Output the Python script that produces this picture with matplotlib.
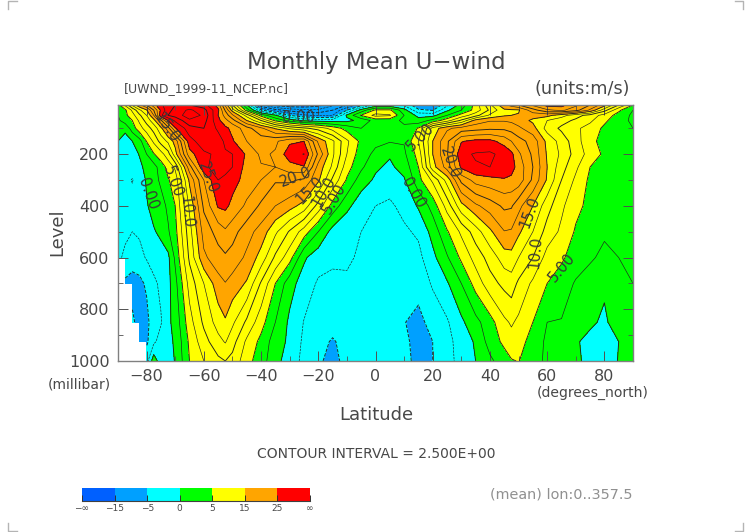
import numpy as np
import matplotlib
matplotlib.use("Agg")
import matplotlib.pyplot as plt
from matplotlib.colors import ListedColormap
from matplotlib.lines import Line2D

nan = np.nan
W, H = 752, 532

lat = [-90, -87.5, -85, -82.5, -80, -77.5, -75, -72.5, -70, -65, -60, -55, -52.5, -50, -45, -40, -35, -30, -25, -20, -15, -10,
       -5, 0, 5, 10, 15, 20, 25, 30, 35, 40, 45, 47.5, 50, 55, 60, 65, 70, 75, 80, 85, 90]
level = [1000, 925, 850, 700, 600, 500, 400, 300, 250, 200, 150, 100, 70, 50, 30, 10]

u_1000 = [nan,nan,nan,nan,-3.5,1.5,-1.5,-0.7,0.1,5,7.5,9.4,10,9.2,6,3.5,1,-1.5,-3,-4.5,-6,-4,-3,-2.5,-3,-4.5,-5.5,-5,-3,-2,0,2,3.8,4.8,5.1,3.5,2,1,0.8,-1.2,-2,0.2,1]
u_925 = [nan,nan,nan,-5.5,-5.5,-3,-1.5,-0.6,0.3,5.5,9,11.7,12.7,11,7,4.3,1.2,-0.5,-3,-4,-5.3,-4,-3,-2.6,-2.8,-4.5,-5.8,-5,-3,-1.8,0.4,3.5,5.6,6.6,6,4,2,1.5,0.3,-0.8,-1.5,0,1]
u_850 = [nan,nan,-4.5,-6,-6,-3,-2.7,-0.5,0.8,6.5,10.5,13.6,14.7,13,9.5,6,2.5,-0.5,-2.6,-3.5,-3.8,-3.5,-3,-3,-3.5,-4.9,-5.8,-4,-2.8,-0.5,1.7,4,7,7.8,7,5,2.5,2.4,1.2,0.5,-0.5,1.5,2]
u_700 = [nan,-5.5,-6,-5.8,-4.5,-3,-2,-0.8,1.7,8.5,12.5,16.5,17.4,16.5,14.7,9.7,5,1,-1.2,-2.8,-3,-2.6,-2.8,-3,-3.2,-4,-4,-2.2,-0.3,2.5,6,9,10.7,11.3,9.5,7,5,3.5,2.3,1.5,0.5,1.5,2.5]
u_600 = [-2,-3,-3.8,-3.2,-2.3,-1.5,-1,-0.6,3,10.5,17,19,19.6,19,17,14,9.5,6,0.4,-1.5,-2.1,-2.4,-2.6,-3,-3.3,-3.6,-3.2,-0.7,2.2,5.5,8.5,11,13.8,14.1,12.5,10,6.5,5.5,3.5,2.8,2,2.5,3]
u_500 = [-1.5,-2,-2.5,-2.2,-1.3,-0.2,0.5,2.2,4.2,11.5,18.5,21,22.1,21,18.5,16.5,13,9.7,6.3,2.5,-1,-2.1,-2.5,-3,-3.3,-2.9,-2.1,0.9,4.7,8,11.3,14.5,17.4,17.2,15.5,12.5,9,7,4.7,3.5,2.8,3,3.5]
u_400 = [-1,-1.5,-1.8,-1.7,-0.2,0.8,1.5,3,5,13,20.5,25.3,25.6,24.3,22,19.5,17.5,16,14,9,4,0.7,-1.5,-2.5,-2.9,-1.8,0.3,3.5,8.5,14.2,17,18.7,20.5,20.3,18.3,15,11,8,5.7,4.3,3.5,3.5,4]
u_300 = [-1,-2,-2.6,-1.6,0.3,1.5,3,4.8,6,15.5,22.5,27.5,27,26,24,22.5,20.3,20.5,19.5,15.5,9.5,4.7,1.2,-0.4,-1.4,-0.3,4.2,8,13.5,20.7,23.5,24.2,24.7,24.4,24,19.5,14.7,10,7,4.5,4,4,4.5]
u_250 = [-0.8,-1.2,-1.7,-0.4,0.5,1.5,3.7,5.8,8,19,27,28.5,28.2,27.5,24,22.7,22.5,24,24.8,16.5,12,6,3,0.4,-0.5,1,5,14,18.5,25.5,27.3,27.5,27,26,24,20,15,11,8,5,4.5,4.5,4.5]
u_200 = [-0.3,-0.5,-0.7,0.1,2.5,4.8,6.5,9,14,24,27,28,27.8,27.5,24.6,22,22.8,26.5,27.6,19.5,13,7.5,3.5,2,0.3,2,6,15,19.7,27,27.7,27.9,26.8,25.6,23,19.5,14.7,12,9,6.5,4.5,4.5,4.5]
u_150 = [0,-1,0,1.5,5.1,8,11,13,16,26.5,29,28.7,27,25.3,22.5,21.5,22,24.5,25,17,13,8,4.3,3,2.7,2.7,7.5,15,19.5,24.8,25.7,25.7,24,22.5,21,19,14.3,11.5,8.5,5.8,4,4,3.5]
u_100 = [1,0.6,3.7,6.5,8.7,11,14.3,19,24.7,29,30,27,25.6,24.3,21,18,14.7,12,10.5,9,6.5,4,2.5,2.8,2.8,3,5.2,13.5,17,18.5,19,19.5,19.5,19,18,16,11.5,9.5,8,6.5,4.5,3,2.5]
u_70 = [2,3.7,5,8,11,14,19.5,25,28,32,31,25.7,23.3,21,15,10,4.5,1.5,-0.5,-1,-1,-0.7,0.8,3.5,3.5,2,1,3.3,6.5,10.5,16,17.3,17.3,17,16.3,14.5,12.5,11,9.5,8,5.5,3.5,2]
u_50 = [2.5,4.3,6.5,9.5,12.5,17.5,27,30,31,34,32,25,21.5,18,11.5,4,0.3,-5,-7,-8,-7.5,0.5,5.2,8.3,7.8,2.5,-0.8,-0.8,2.5,6,9,13,14.7,15,15.2,16,15.8,13.5,11,9,6.5,4,2]
u_30 = [3,4.5,8,12,14.7,20,25.5,29,31,33,31,25.5,19.7,14,4,-4.5,-9,-11,-12,-12,-10,-5,1,5.5,5.5,1,-4.5,-5.2,-0.5,2.5,6,10.5,14.5,14.6,14.7,19,22,23,21,17,11,5.5,2.5]
u_10 = [4,8,13,17,20,24,27,29,30,30,28.5,24,17,10,0,-12,-16,-17,-17,-16,-13,-10,-6,-2,-2,-3,-7,-8,-3,1,6,12,17,18.5,20,23,26,26,23,20,16,10,5]

bar_edges = [-1000, -15, -5, 0, 5, 15, 25, 1000]
bar_colors = ["#0060ff", "#00a0ff", "#00ffff", "#00ff00", "#ffff00", "#ffa500", "#ff0000"]
bar_labels = ["\u2212\u221e", "\u221215", "\u22125", "0", "5", "15", "25", "\u221e"]
line_levels = np.arange(-17.5, 35, 2.5)
x_ticks = [-80, -60, -40, -20, 0, 20, 40, 60, 80]
y_ticks = [200, 400, 600, 800, 1000]

# (text, lat, level, rotation)
contour_labels = [
    ("15.0", -73, 100, -55), ("0.00", -27, 60, 0), ("5.00", -71, 308, -70),
    ("0.00", -79.5, 355, -70), ("10.0", -66, 424, -85), ("25.0", -58.5, 293, -70),
    ("20.0", -28, 290, 20), ("15.0", -23, 340, 45), ("10.0", -18, 343, 60),
    ("5.00", -14.5, 370, 60), ("5.00", 15.5, 135, 45), ("0.00", 13, 350, -60),
    ("20.0", 26, 235, -70), ("15.0", 54, 423, 70), ("10.0", 56, 580, 85),
    ("5.00", 65, 640, 50),
]

U = np.array([u_1000, u_925, u_850, u_700, u_600, u_500, u_400, u_300, u_250, u_200,
              u_150, u_100, u_70, u_50, u_30, u_10], dtype=float)

TXT = "#484848"
fig = plt.figure(figsize=(W / 100, H / 100), dpi=100)


def rect(x0, y0, x1, y1):
    return [x0 / W, 1 - y1 / H, (x1 - x0) / W, (y1 - y0) / H]


def ftext(x, y, s, **kw):
    kw.setdefault("color", TXT)
    fig.text(x / W, 1 - y / H, s, **kw)


ax = fig.add_axes(rect(118, 105, 633, 361))
cmap = ListedColormap(bar_colors)
ax.contourf(lat, level, U, levels=bar_edges, colors=bar_colors, corner_mask=False)
styles = ["solid" if v >= 0 else "dashed" for v in line_levels]
widths = [0.65 if v % 5 == 0 else 0.45 for v in line_levels]
ax.contour(lat, level, U, levels=line_levels, colors="#202020", linestyles=styles, linewidths=widths,
           corner_mask=False)
ax.set_xlim(-90, 90)
ax.set_ylim(1000, 10)
ax.set_xticks(x_ticks)
ax.set_yticks(y_ticks)
ax.set_xticks(np.arange(-90, 91, 10), minor=True)
ax.set_yticks(np.arange(100, 1000, 100), minor=True)
ax.tick_params(which="major", direction="in", length=7, width=0.7, color="#505050", top=True, right=True,
               labelsize=11.5, labelcolor=TXT, pad=6)
ax.tick_params(which="minor", direction="in", length=3.5, width=0.6, color="#505050", top=True, right=True)
ax.set_xticklabels([str(v).replace("-", "\u2212") for v in x_ticks])
for s in ax.spines.values():
    s.set_color("#808080")
    s.set_linewidth(1.0)

for s, lo, le, rot in contour_labels:
    ax.text(lo, le, s, fontsize=10.5, rotation=rot, ha="center", va="center", color="#383838",
            rotation_mode="anchor", zorder=5)

ftext(376, 62, "Monthly Mean U\u2212wind", fontsize=16.5, ha="center", va="center")
ftext(124, 89, "[UWND_1999-11_NCEP.nc]", fontsize=9, ha="left", va="center")
ftext(630, 89, "(units:m/s)", fontsize=12.7, ha="right", va="center")
ftext(57, 232, "Level", fontsize=13, rotation=90, ha="center", va="center")
ftext(48, 384, "(millibar)", fontsize=10, ha="left", va="center")
ftext(376, 415, "Latitude", fontsize=13, ha="center", va="center")
ftext(649, 393, "(degrees_north)", fontsize=10.1, ha="right", va="center")
ftext(376, 454, "CONTOUR INTERVAL = 2.500E+00", fontsize=10, ha="center", va="center")
ftext(632, 495, "(mean) lon:0..357.5", fontsize=10.4, ha="right", va="center", color="#909090")

cax = fig.add_axes(rect(82, 488, 310, 501))
cax.pcolormesh(np.arange(8), [0, 1], [np.arange(7)], cmap=cmap, vmin=-0.5, vmax=6.5)
cax.set_xlim(0, 7)
cax.set_ylim(0, 1)
cax.set_yticks([])
cax.set_xticks(np.arange(8))
cax.set_xticklabels(bar_labels)
cax.tick_params(axis="x", direction="in", length=4, width=0.7, color="#303030", labelsize=6.5, labelcolor=TXT, pad=2)
for k, s in cax.spines.items():
    s.set_visible(k == "bottom")
    s.set_color("#404040")

for xs, ys in [((17, 8, 8), (0.5, 0.5, 9)), ((735, 743, 743), (0.5, 0.5, 9)),
               ((17, 8, 8), (531, 531, 523)), ((735, 743, 743), (531, 531, 523))]:
    fig.add_artist(Line2D([x / W for x in xs], [1 - y / H for y in ys], color="#b4b4b4", lw=1.0))

fig.savefig("out.png", dpi=100)
